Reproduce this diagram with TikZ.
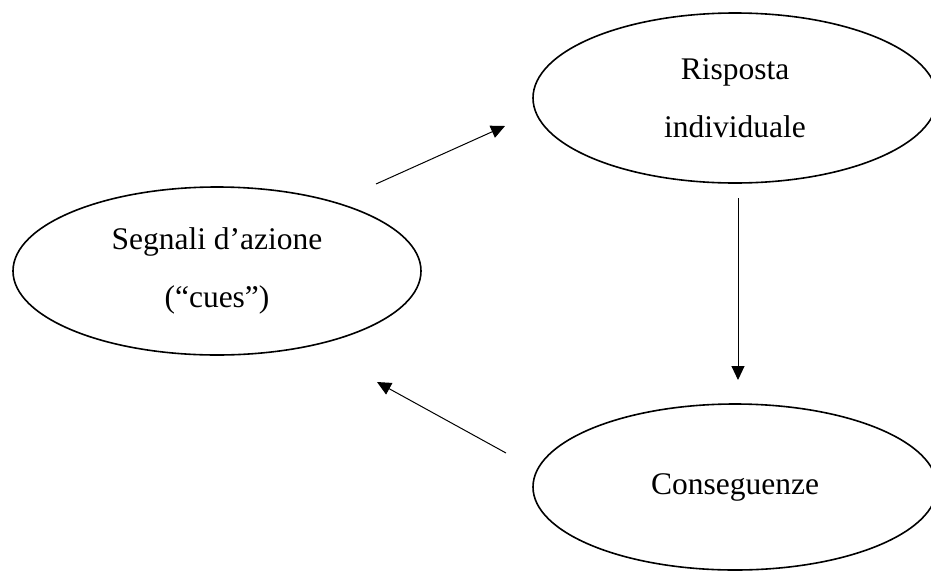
\documentclass[tikz,border=0pt]{standalone}
\usepackage{fontspec}
\setmainfont{Liberation Serif}
\usetikzlibrary{shapes.geometric,arrows.meta}
\begin{document}
\begin{tikzpicture}[x=1pt,y=-1pt,
  bubble/.style={ellipse,draw,line width=1.6pt,inner sep=0pt,align=center,
    font=\fontsize{31.5}{58}\selectfont},
  conn/.style={line width=1pt,-{Triangle[length=14pt,width=13pt]}}]
\useasboundingbox (0,0) rectangle (931,571);
\node[bubble,minimum width=408pt,minimum height=168pt] (cues) at (217,271) {Segnali d’azione\\(“cues”)};
\node[bubble,minimum width=404pt,minimum height=170pt] (risp) at (735,98) {Risposta\\individuale};
\node[bubble,minimum width=404pt,minimum height=166pt] (cons) at (735,487) {Conseguenze};
\coordinate (a1s) at (376,184);
\coordinate (a1e) at (505,126);
\coordinate (a2s) at (738,198);
\coordinate (a2e) at (738,380);
\coordinate (a3s) at (506,453);
\coordinate (a3e) at (377,382);
\draw[conn] (a1s) -- (a1e);
\draw[conn] (a2s) -- (a2e);
\draw[conn] (a3s) -- (a3e);
\end{tikzpicture}
\end{document}
